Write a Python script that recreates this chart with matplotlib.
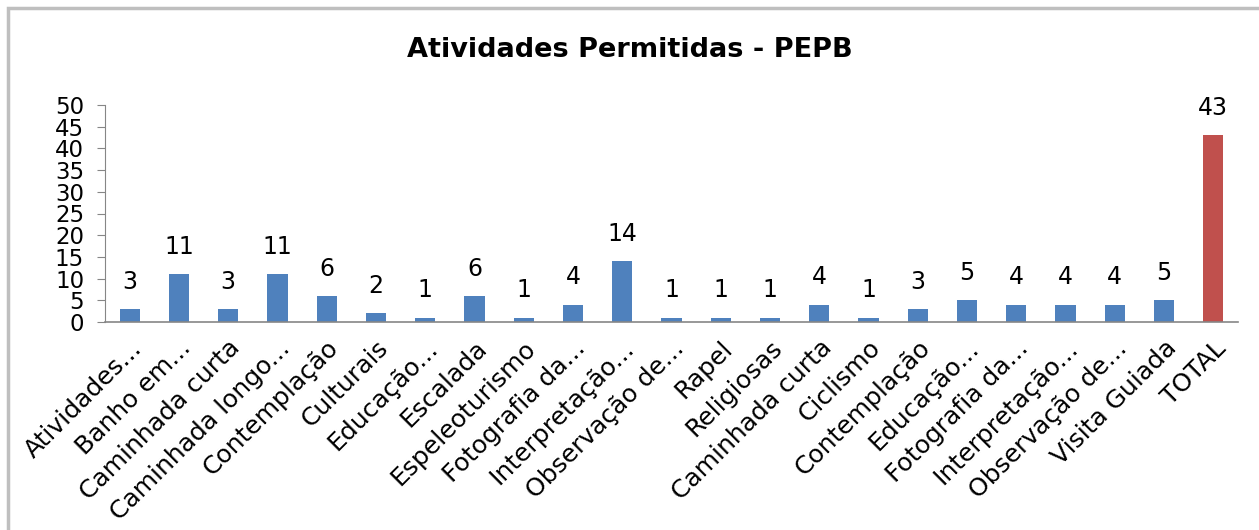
import matplotlib
matplotlib.use("Agg")
import matplotlib.pyplot as plt
from matplotlib.patches import Rectangle

categories = ["Atividades...", "Banho em...", "Caminhada curta", "Caminhada longo...",
              "Contemplação", "Culturais", "Educação...", "Escalada", "Espeleoturismo",
              "Fotografia da...", "Interpretação...", "Observação de...", "Rapel",
              "Religiosas", "Caminhada curta", "Ciclismo", "Contemplação", "Educação...",
              "Fotografia da...", "Interpretação...", "Observação de...", "Visita Guiada",
              "TOTAL"]
values = [3, 11, 3, 11, 6, 2, 1, 6, 1, 4, 14, 1, 1, 1, 4, 1, 3, 5, 4, 4, 4, 5, 43]
yticks = [0, 5, 10, 15, 20, 25, 30, 35, 40, 45, 50]
title = "Atividades Permitidas - PEPB"

BLUE = "#4F81BD"
RED = "#C0504D"
colors = [RED if c == "TOTAL" else BLUE for c in categories]

plt.rcParams['font.family'] = ['DejaVu Sans']

fig = plt.figure(figsize=(12.59, 5.30), dpi=100)
fig.patch.set_facecolor("white")

# outer border (extends beyond right/bottom edges)
fig.add_artist(Rectangle((8/1259, -0.1), 1.2, 1 - 8/530 + 0.1, transform=fig.transFigure,
                         fill=False, edgecolor="#BFBFBF", linewidth=2.5))

ax = fig.add_axes([105/1259, 1 - 322/530, (1238 - 105)/1259, (322 - 105)/530])
x = list(range(len(categories)))
bars = ax.bar(x, values, width=0.41, color=colors)
ax.set_xlim(-0.5, len(categories) - 0.5)
ax.set_ylim(0, 50)
ax.set_yticks(yticks)
ax.set_yticklabels([str(t) for t in yticks], fontsize=16.5)
ax.set_xticks(x)
ax.set_xticklabels(categories, rotation=45, ha="right", rotation_mode="anchor", fontsize=18)
ax.tick_params(axis="x", length=0, pad=10)
ax.tick_params(axis="y", length=6, color="#868686", pad=9)
for s in ["top", "right"]:
    ax.spines[s].set_visible(False)
ax.spines["left"].set_color("#868686")
ax.spines["bottom"].set_color("#868686")
ax.spines["bottom"].set_linewidth(1.2)

for xi, v in zip(x, values):
    ax.annotate(str(v), (xi, v), xytext=(0, 11), textcoords="offset points",
                ha="center", va="bottom", fontsize=17)

fig.text(0.5, 1 - 50/530, title, ha="center", va="center", fontsize=19.5, fontweight="bold")

fig.savefig("out.png", dpi=100, facecolor="white")
